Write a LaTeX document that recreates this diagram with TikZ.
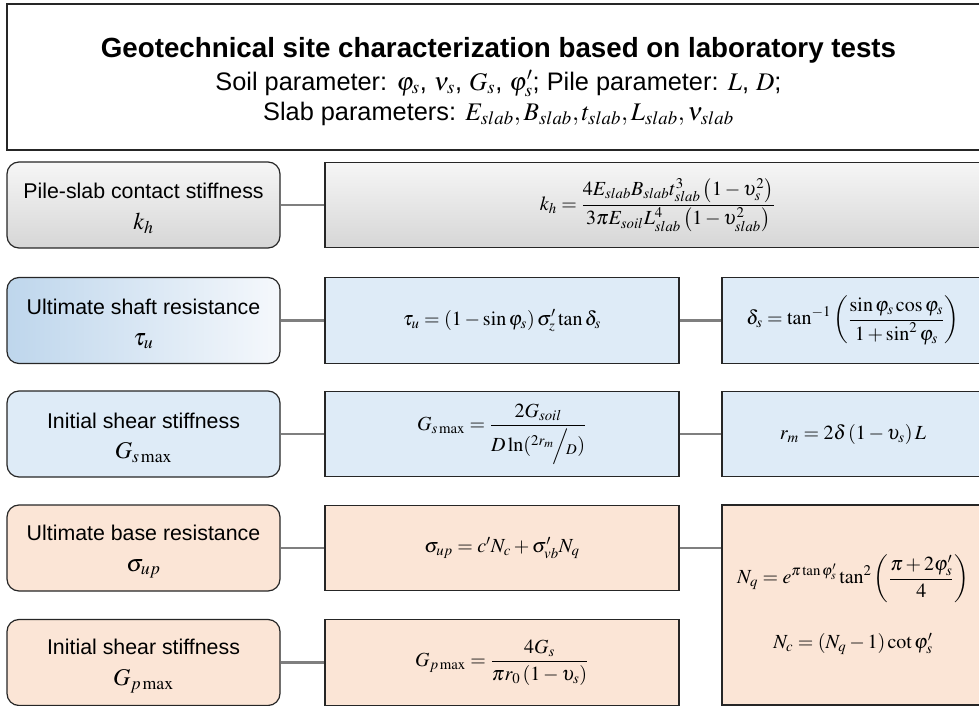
\documentclass[tikz,border=0pt]{standalone}
\usepackage{amsmath}
\usepackage{mathptmx}
\usepackage[no-math]{fontspec}
\setmainfont{Liberation Sans}
\usetikzlibrary{positioning}

\begin{document}
\begin{tikzpicture}[x=0.75pt,y=0.75pt,yscale=-1,xscale=1,
  headbox/.style={draw={rgb, 255:red, 38; green, 38; blue, 38}, line width=1pt, minimum width=737.25pt, minimum height=109.5pt, align=center, inner sep=0pt, font=\fontsize{19}{23}\selectfont},
  lbox/.style={draw={rgb, 255:red, 38; green, 38; blue, 38}, line width=0.9pt, rounded corners=9pt, minimum width=204.75pt, minimum height=64.5pt, align=center, inner sep=0pt, font=\fontsize{16}{20}\selectfont},
  eqbox/.style={draw={rgb, 255:red, 38; green, 38; blue, 38}, line width=0.9pt, minimum height=64pt, align=center, inner sep=0pt, font=\fontsize{15}{18}\selectfont},
  bluefill/.style={fill={rgb, 255:red, 222; green, 235; blue, 247}},
  orangefill/.style={fill={rgb, 255:red, 251; green, 229; blue, 214}},
  grayshade/.style={top color={rgb, 255:red, 246; green, 246; blue, 246}, bottom color={rgb, 255:red, 214; green, 214; blue, 214}},
  conn/.style={draw={rgb, 255:red, 127; green, 127; blue, 127}, line width=1.6pt}
]
\useasboundingbox (0,0) rectangle (979,706);
\clip (0,0) rectangle (979,706);

% Title Box
\node [headbox] (head) at (498.5,77) {\rule{0pt}{22pt}{\fontsize{20.8}{24}\selectfont\bfseries Geotechnical site characterization based on laboratory tests}\\[1.5pt]
  Soil parameter: $\varphi_s$, $\nu_s$, $G_s$, $\varphi'_s$; Pile parameter: $L$, $D$;\\
  Slab parameters: $E_{slab}, B_{slab}, t_{slab}, L_{slab}, \nu_{slab}$};

% Rounded Rect
\node [lbox, grayshade] (kh) at (143.5,205) {\rule{0pt}{17pt}Pile-slab contact stiffness\\[3pt] {\fontsize{18}{20}\selectfont$k_h$}};
% Rounded Rect
\node [lbox, left color={rgb, 255:red, 190; green, 214; blue, 236}, middle color={rgb, 255:red, 210; green, 226; blue, 243}, right color={rgb, 255:red, 245; green, 248; blue, 252}] (tau) at (143.5,320.5) {\rule{0pt}{17pt}Ultimate shaft resistance\\[3pt] {\fontsize{18}{20}\selectfont$\tau_u$}};
% Rounded Rect
\node [lbox, bluefill] (gs) at (143.5,434) {\rule{0pt}{17pt}Initial shear stiffness\\[3pt] {\fontsize{18}{20}\selectfont$G_{s\max}$}};
% Rounded Rect
\node [lbox, orangefill] (sup) at (143.5,548) {\rule{0pt}{17pt}Ultimate base resistance\\[3pt] {\fontsize{18}{20}\selectfont$\sigma_{up}$}};
% Rounded Rect
\node [lbox, orangefill] (gp) at (143.5,662.5) {\rule{0pt}{17pt}Initial shear stiffness\\[3pt] {\fontsize{18}{20}\selectfont$G_{p\max}$}};

% Text Node
\node [eqbox, grayshade, minimum width=498.75pt] (khf) at (657.5,205) {$\displaystyle k_h=\frac{4E_{slab}B_{slab}t^3_{slab}\left(1-\upsilon_s^2\right)}{3\pi E_{soil}L^4_{slab}\left(1-\upsilon^2_{slab}\right)}$};
% Text Node
\node [eqbox, bluefill, minimum width=265.5pt] (tauf) at (502,320.5) {$\tau_u=\left(1-\sin\varphi_s\right)\sigma'_z\tan\delta_s$};
% Text Node
\node [eqbox, bluefill, minimum width=265.5pt] (gsf) at (502,434) {$\displaystyle G_{s\max}=\frac{2G_{soil}}{D\ln({}^{2r_m}\!\Big/\!{}_{D})}$};
% Text Node
\node [eqbox, orangefill, minimum width=265.5pt] (supf) at (502,548) {$\sigma_{up}=c'N_c+\sigma'_{vb}N_q$};
% Text Node
\node [eqbox, orangefill, minimum width=265.5pt] (gpf) at (502,662.5) {$\displaystyle G_{p\max}=\frac{4G_s}{\pi r_0\left(1-\upsilon_s\right)}$};

% Text Node
\node [eqbox, bluefill, minimum width=196.5pt] (delta) at (853,320.5) {$\displaystyle \delta_s=\tan^{-1}\left(\frac{\sin\varphi_s\cos\varphi_s}{1+\sin^2\varphi_s}\right)$};
% Text Node
\node [eqbox, bluefill, minimum width=196.5pt] (rm) at (853,434) {$r_m=2\delta\left(1-\upsilon_s\right)L$};
% Text Node
\node [eqbox, orangefill, minimum width=196.5pt, minimum height=150pt] (nq) at (853,605) {$\displaystyle N_q=e^{\pi\tan\varphi'_s}\tan^2\left(\frac{\pi+2\varphi'_s}{4}\right)$\\[22pt]
  $N_c=\left(N_q-1\right)\cot\varphi'_s$};

%Straight Lines
\draw [conn] (kh.east) -- (khf.west);
\draw [conn] (tau.east) -- (tauf.west);
\draw [conn] (gs.east) -- (gsf.west);
\draw [conn] (sup.east) -- (supf.west);
\draw [conn] (gp.east) -- (gpf.west);
\draw [conn] (tauf.east) -- (delta.west);
\draw [conn] (gsf.east) -- (rm.west);
\draw [conn] (supf.east) -- (supf.east -| nq.west);

\end{tikzpicture}
\end{document}
